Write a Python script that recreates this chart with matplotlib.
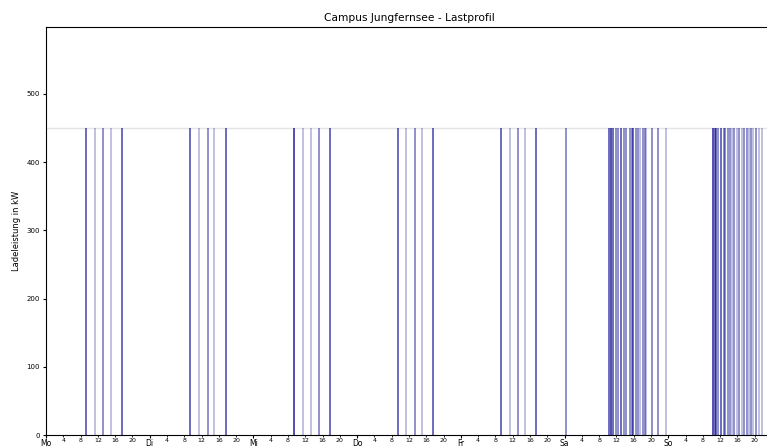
import numpy as np
import matplotlib
matplotlib.use("Agg")
import matplotlib.pyplot as plt
from matplotlib.ticker import FixedLocator, FixedFormatter

# charging events: start hour within the week (Mo 0:00 = 0) and how many sessions overlap there
event_hours = [
    9.35, 11.3, 13.3, 15.0, 17.6,                      # Mo
    33.4, 35.35, 37.4, 38.95, 41.6,                    # Di
    57.4, 59.4, 61.4, 63.1, 65.7,                      # Mi
    81.4, 83.35, 85.35, 87.1, 89.65,                   # Do
    105.3, 107.4, 109.25, 110.9, 113.45,               # Fr
    120.3,                                             # Sa night
    130.3, 130.8, 131.3, 131.95, 132.4, 133.1, 133.65, 134.1, 135.05, 135.5,
    135.95, 136.5, 137.05, 137.5, 138.05, 138.5, 138.9, 140.2, 141.6, 143.5,  # Sa
    154.4, 154.7, 155.1, 155.5, 156.2, 156.8, 157.2, 157.8, 158.3, 158.85, 159.3,
    159.9, 160.4, 161.0, 161.5, 162.1, 162.7, 163.2, 163.7, 164.3, 165.1, 165.8,  # So
]
event_sessions = [
    3, 1, 2, 1, 3,
    3, 1, 2, 1, 3,
    4, 1, 1, 2, 3,
    3, 1, 2, 1, 3,
    3, 1, 2, 1, 3,
    2,
    3, 4, 3, 2, 2, 3, 2, 2, 2, 2,
    3, 2, 2, 1, 2, 2, 1, 2, 2, 1,
    4, 3, 3, 2, 3, 2, 2, 2, 2, 1, 2,
    1, 2, 1, 2, 2, 1, 2, 1, 2, 1, 1,
]
charge_power = 450  # kW per charging point
max_power = 450

day_names = ["Mo", "Di", "Mi", "Do", "Fr", "Sa", "So"]
hour_labels = ["4", "8", "12", "16", "20"]

fig = plt.figure(figsize=(7.67, 4.48), dpi=100)
ax = fig.add_axes([46 / 767, 13 / 448, 726 / 767, 408 / 448])

base = matplotlib.colors.to_rgb("darkblue")
a = 0.25
cols = [(base[0], base[1], base[2], 1 - (1 - a) ** n) for n in event_sessions]
ax.vlines(event_hours, 0, charge_power, colors=cols, linewidth=1.4)
ax.axhline(max_power, color="#e4e4e4", linewidth=1, zorder=0)

ax.set_xlim(0, 168)
ax.set_ylim(0, 598)

major = [24 * d for d in range(7)]
minor = [24 * d + h for d in range(7) for h in (4, 8, 12, 16, 20)]
ax.xaxis.set_major_locator(FixedLocator(major))
ax.xaxis.set_major_formatter(FixedFormatter(day_names))
ax.xaxis.set_minor_locator(FixedLocator(minor))
ax.xaxis.set_minor_formatter(FixedFormatter(hour_labels * 7))
ax.tick_params(axis="x", which="major", labelsize=5.5, length=2.5, pad=0.5)
ax.tick_params(axis="x", which="minor", labelsize=4.5, length=1.5, pad=1)
ax.set_yticks([0, 100, 200, 300, 400, 500])
ax.tick_params(axis="y", labelsize=5, length=2.5, pad=2)

ax.set_ylabel("Ladeleistung in kW", fontsize=6, labelpad=4)
ax.set_title("Campus Jungfernsee - Lastprofil", fontsize=7.7, pad=4)

fig.savefig("out.png", dpi=100)
